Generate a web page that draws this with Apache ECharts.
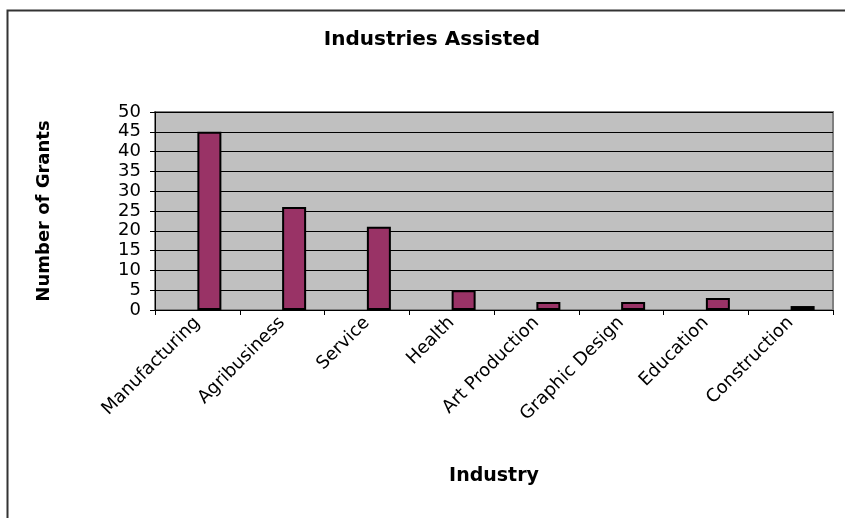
<!DOCTYPE html>
<html>
<head>
<meta charset="utf-8">
<script src="https://cdn.jsdelivr.net/npm/echarts@6/dist/echarts.min.js"></script>
<style>
  html, body { margin: 0; padding: 0; background: #fff; }
  #chart { width: 845px; height: 518px; }
</style>
</head>
<body>
<div id="chart"></div>
<script>
const industries = ['Manufacturing', 'Agribusiness', 'Service', 'Health', 'Art Production', 'Graphic Design', 'Education', 'Construction'];
const grants = [45, 26, 21, 5, 2, 2, 3, 1];
const yTicks = [0, 5, 10, 15, 20, 25, 30, 35, 40, 45, 50];

const font = '"DejaVu Sans", "Liberation Sans", Arial, sans-serif';
const chart = echarts.init(document.getElementById('chart'));

chart.setOption({
  animation: false,
  backgroundColor: '#fff',
  title: {
    text: 'Industries Assisted',
    left: 427,
    top: 25,
    textAlign: 'center',
    textStyle: { fontFamily: font, fontSize: 20, fontWeight: 'bold', color: '#000' }
  },
  graphic: [{
    type: 'rect',
    shape: { x: 7.5, y: 10.5, width: 900, height: 600 },
    style: { fill: 'none', stroke: '#333', lineWidth: 2 },
    silent: true
  }],
  grid: {
    left: 155,
    right: 12,
    top: 112,
    bottom: 208,
    show: true,
    backgroundColor: '#c0c0c0',
    borderColor: '#808080',
    borderWidth: 2
  },
  xAxis: {
    type: 'category',
    data: industries,
    name: 'Industry',
    nameLocation: 'middle',
    nameGap: 157,
    nameTextStyle: { fontFamily: font, fontSize: 19, fontWeight: 'bold', color: '#000' },
    axisLine: { lineStyle: { color: '#000', width: 1 } },
    axisTick: { show: true, length: 5, lineStyle: { color: '#000' } },
    axisLabel: {
      rotate: 45,
      interval: 0,
      margin: 10,
      fontFamily: font,
      fontSize: 18,
      color: '#000'
    }
  },
  yAxis: {
    type: 'value',
    min: yTicks[0],
    max: yTicks[yTicks.length - 1],
    interval: 5,
    name: 'Number of Grants',
    nameLocation: 'middle',
    nameGap: 102,
    nameTextStyle: { fontFamily: font, fontSize: 18, fontWeight: 'bold', color: '#000' },
    axisLine: { show: true, lineStyle: { color: '#000', width: 1 } },
    axisTick: { show: true, length: 5, lineStyle: { color: '#000' } },
    axisLabel: { margin: 14, fontFamily: font, fontSize: 18, color: '#000' },
    splitLine: { show: true, lineStyle: { color: '#000', width: 1 } }
  },
  series: [
    {
      name: 'spacer',
      type: 'bar',
      data: [],
      barWidth: 24,
      barGap: '0%'
    },
    {
      name: 'Grants',
      type: 'bar',
      data: grants,
      barWidth: 24,
      barGap: '0%',
      itemStyle: { color: '#993366', borderColor: '#000', borderWidth: 2 }
    }
  ]
});
</script>
</body>
</html>
